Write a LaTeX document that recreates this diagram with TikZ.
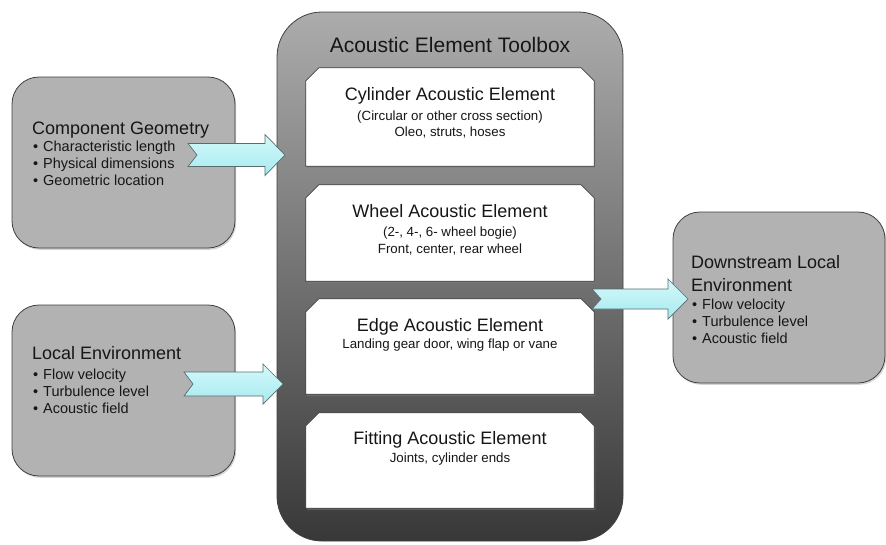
\documentclass[tikz,border=0pt]{standalone}
\usepackage{fontspec}
\setmainfont{Liberation Sans}
\usetikzlibrary{shadows}
\definecolor{boxgray}{RGB}{178,178,178}
\definecolor{edgegray}{RGB}{64,64,64}
\definecolor{txt}{RGB}{22,22,22}
\definecolor{tbtop}{RGB}{172,172,172}
\definecolor{tbbot}{RGB}{56,56,56}
\definecolor{arrtop}{RGB}{212,249,251}
\definecolor{arrbot}{RGB}{166,234,239}
\definecolor{arredge}{RGB}{88,108,110}
\newcommand\bul{\makebox[11pt][l]{\hspace{1pt}•}}
\newcommand\chambox[1]{%
  \path[elshape] ([yshift=-13pt]#1.north west) -- ([xshift=13pt]#1.north west)
    -- ([xshift=-13pt]#1.north east) -- ([yshift=-13pt]#1.north east)
    -- (#1.south east) -- (#1.south west) -- cycle;}
\tikzset{
  pics/blockarrow/.style n args={3}{code={
    \path[arrowsty] (0,-#2) -- ({#1-20},-#2) -- ({#1-20},-#3) -- (#1,0)
      -- ({#1-20},#3) -- ({#1-20},#2) -- (0,#2) -- (9,0) -- cycle;}},
  arrowsty/.style={draw=arredge, line width=0.7pt, top color=arrtop, bottom color=arrbot},
  sidebox/.style={draw=edgegray, line width=0.8pt, fill=boxgray, rounded corners=27pt,
    inner sep=0pt, minimum height=171pt,
    drop shadow={shadow xshift=1.2pt,shadow yshift=-1.8pt,opacity=0.35}},
  toolbox/.style={draw=edgegray, line width=0.8pt, top color=tbtop, bottom color=tbbot,
    rounded corners=45pt, inner sep=0pt, minimum width=346pt, minimum height=529pt},
  elbox/.style={rectangle, inner sep=0pt, minimum width=288pt},
  elshape/.style={draw=edgegray, line width=0.8pt, fill=white,
    drop shadow={shadow xshift=1.2pt,shadow yshift=-1.8pt,opacity=0.45}},
  ttl/.style={font=\fontsize{18}{21}\selectfont, text=txt, inner sep=0pt, anchor=base west},
  itm/.style={font=\fontsize{14.5}{17}\selectfont, text=txt, inner sep=0pt, anchor=base west},
  eltitle/.style={font=\fontsize{18}{21}\selectfont, text=txt, inner sep=0pt, anchor=base},
  elsub/.style={font=\fontsize{13.3}{16}\selectfont, text=txt, inner sep=0pt, anchor=base},
  tbtitle/.style={font=\fontsize{21}{24}\selectfont, text=txt, inner sep=0pt, anchor=base}
}
\begin{document}
\begin{tikzpicture}[x=1pt,y=-1pt]
\useasboundingbox (0,0) rectangle (886,544);
% side boxes
\node[sidebox, minimum width=223pt] (geo) at (123.5,162.5) {};
\node[sidebox, minimum width=223pt] (env) at (123.5,390.5) {};
\node[sidebox, minimum width=212pt] (down) at (779,297.5) {};
% toolbox
\node[toolbox] (tb) at (450,276.5) {};
\node[tbtitle] (tbt) at (450,52) {Acoustic Element Toolbox};
% element boxes
\node[elbox, minimum height=98pt] (cyl) at (450,117) {};
\node[elbox, minimum height=96pt] (whl) at (450,233) {};
\node[elbox, minimum height=95pt] (edg) at (450,346.5) {};
\node[elbox, minimum height=95pt] (fit) at (450,460.5) {};
\chambox{cyl}
\chambox{whl}
\chambox{edg}
\chambox{fit}
% element texts
\node[eltitle] (cylt) at (450,100) {Cylinder Acoustic Element};
\node[elsub] (cyls1) at (450,120) {(Circular or other cross section)};
\node[elsub] (cyls2) at (450,136) {Oleo, struts, hoses};
\node[eltitle] (whlt) at (450,217) {Wheel Acoustic Element};
\node[elsub] (whls1) at (450,236) {(2-, 4-, 6- wheel bogie)};
\node[elsub] (whls2) at (450,253) {Front, center, rear wheel};
\node[eltitle] (edgt) at (450,331) {Edge Acoustic Element};
\node[elsub] (edgs1) at (450,348) {Landing gear door, wing flap or vane};
\node[eltitle] (fitt) at (450,444) {Fitting Acoustic Element};
\node[elsub] (fits1) at (450,462) {Joints, cylinder ends};
% side texts
\node[ttl] (geot) at (32,134) {Component Geometry};
\node[itm] (geo1) at (32,151) {\bul Characteristic length};
\node[itm] (geo2) at (32,168) {\bul Physical dimensions};
\node[itm] (geo3) at (32,185) {\bul Geometric location};
\node[ttl] (envt) at (32,359) {Local Environment};
\node[itm] (env1) at (32,379.5) {\bul Flow velocity};
\node[itm] (env2) at (32,396.5) {\bul Turbulence level};
\node[itm] (env3) at (32,413.5) {\bul Acoustic field};
\node[ttl] (downt1) at (691,268) {Downstream Local};
\node[ttl] (downt2) at (691,291) {Environment};
\node[itm] (down1) at (691,309) {\bul Flow velocity};
\node[itm] (down2) at (691,326) {\bul Turbulence level};
\node[itm] (down3) at (691,343) {\bul Acoustic field};
% block arrows
\coordinate (a1) at (188,155);
\coordinate (a2) at (184,384);
\coordinate (a3) at (592,299);
\pic at (a1) {blockarrow={97}{11.5}{20.5}};
\pic at (a2) {blockarrow={99}{12}{20}};
\pic at (a3) {blockarrow={96}{10}{20}};
\end{tikzpicture}
\end{document}
